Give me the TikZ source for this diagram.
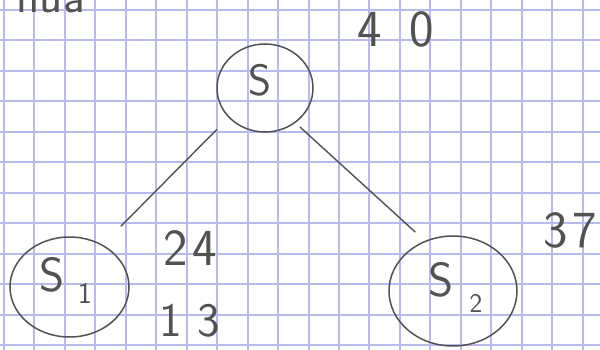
\documentclass[tikz,border=0pt]{standalone}
\usetikzlibrary{shapes.geometric}
\definecolor{gridc}{RGB}{184,186,238}
\definecolor{ink}{RGB}{82,82,82}
\begin{document}
\begin{tikzpicture}[x=1pt,y=-1pt,
  gridline/.style={draw=gridc, line width=1.2pt},
  circ/.style={ellipse, draw=ink, line width=1.5pt, inner sep=0pt, outer sep=0pt},
  hand/.style={text=ink, font=\sffamily\fontsize{#1}{#1}\selectfont, inner sep=0pt},
  link/.style={draw=ink, line width=1.4pt, line cap=round}]
\useasboundingbox (0,0) rectangle (600,350);
\fill[white] (0,0) rectangle (600,350);
\foreach \xx in {4,34,65,95,126,156,187,217,248,278,309,339,369,400,430,461,491,522,552,583}
  \draw[gridline] (\xx,0) -- (\xx,350);
\foreach \yy in {10,40,71,101,132,162,193,223,254,284,315,345}
  \draw[gridline] (0,\yy) -- (600,\yy);
% circles
\node[circ, minimum width=96pt, minimum height=88pt] (s) at (265,88) {};
\node[circ, minimum width=119pt, minimum height=100pt] (s1) at (69.5,287) {};
\node[circ, minimum width=128pt, minimum height=110pt] (s2) at (453,291) {};
% connectors
\draw[link, shorten <=17.5pt, shorten >=27pt] (s.219.7) -- (s1.52.3);
\draw[link, shorten <=7pt, shorten >=14pt] (s.311) -- (s2.119.2);
% labels
\node[hand=44] (ls) at (260,80) {S};
\node[hand=48] (ls1) at (52,275) {S};
\node[hand=30] (ls1i) at (85,293) {1};
\node[hand=48] (ls2) at (441,280) {S};
\node[hand=27] (ls2i) at (476,303) {2};
\node[hand=52] (n40) at (396,29) {4\hspace{28pt}0};
\node[hand=52] (n24) at (190,248) {2\hspace{5pt}4};
\node[hand=48] (n13) at (190,321) {1\hspace{16pt}3};
\node[hand=52] (n37) at (570,230) {3\hspace{5pt}7};
\node[hand=48, anchor=base east] (top) at (85,13) {nua};
\end{tikzpicture}
\end{document}
